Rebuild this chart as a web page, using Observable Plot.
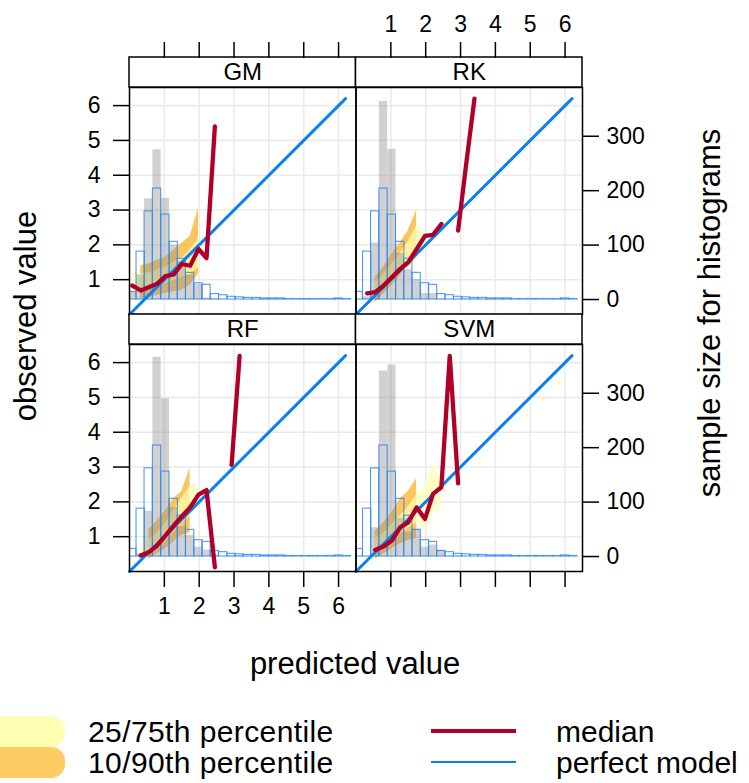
<!DOCTYPE html>
<html>
<head>
<meta charset="utf-8">
<script src="https://cdn.jsdelivr.net/npm/d3@7"></script>
<script src="https://cdn.jsdelivr.net/npm/@observablehq/plot@0.6"></script>
<style>
  html, body { margin: 0; padding: 0; background: #fff; }
  #wrap { position: relative; width: 749px; height: 783px; overflow: hidden; font-family: "Liberation Sans", Arial, sans-serif; color: #000; }
  #chart { position: absolute; left: 0; top: 0; }
  .title { position: absolute; white-space: nowrap; font-size: 31px; line-height: 1; }
  .rot { transform: translate(-50%, -50%) rotate(-90deg); }
  .hor { transform: translate(-50%, -50%); }
  .lg { position: absolute; white-space: nowrap; font-size: 30px; line-height: 0.9; transform: translateY(-50%); }
  .sw { position: absolute; border-radius: 14px; }
  .ln { position: absolute; }
</style>
</head>
<body>
<div id="wrap">
  <div id="chart"></div>
  <div class="title rot" style="left:25px; top:316px;">observed value</div>
  <div class="title rot" style="left:709px; top:313px;">sample size for histograms</div>
  <div class="title hor" style="left:355px; top:663px;">predicted value</div>
  <div class="sw" style="left:-30px; top:716px; width:95px; height:31px; background:#FFFFB3;"></div>
  <div class="sw" style="left:-30px; top:747px; width:95px; height:31px; background:#FDCC63;"></div>
  <div class="lg" style="left:88px; top:731px; letter-spacing:0.4px;">25/75th percentile</div>
  <div class="lg" style="left:88px; top:762px; letter-spacing:0.4px;">10/90th percentile</div>
  <div class="ln" style="left:431px; top:729px; width:85px; height:4px; background:#B0002A;"></div>
  <div class="ln" style="left:431px; top:761px; width:85px; height:2px; background:#0A80F5;"></div>
  <div class="lg" style="left:556px; top:731px;">median</div>
  <div class="lg" style="left:556px; top:762px;">perfect model</div>
</div>
<script>
// ---------------- data ----------------
const models = ["GM", "RK", "RF", "SVM"];

// histogram bin centres (predicted-value bins)
const binCenters = [0.08, 0.32, 0.55, 0.79, 1.03, 1.27, 1.50, 1.74, 1.98, 2.21, 2.45, 2.69, 2.93, 3.16, 3.40,
                    3.64, 3.87, 4.11, 4.35, 4.58, 4.82, 5.06, 5.29, 5.53, 5.77, 6.00, 6.24];

// observed-value histogram (blue outline, same in every panel)
const observedCounts = [14, 88, 162, 204, 156, 106, 75, 49, 30, 27, 10, 8, 5, 4, 3,
                        3, 2, 2, 2, 1, 1, 1, 1, 1, 1, 2, 1];

// predicted-value histograms (grey)
const predGM  = [13, 45, 185, 275, 186, 100, 70, 45, 28, 3, 2];
const predRK  = [0, 5, 104, 364, 276, 85, 55, 37, 11, 11, 1, 0, 1, 1, 1];
const predRF  = [0, 5, 83, 366, 290, 90, 55, 39, 17, 12, 3, 0, 2, 2];
const predSVM = [0, 0, 53, 341, 352, 70, 45, 50, 17, 21, 12, 1, 1];

// median observed value per predicted bin
const medianGM  = [0.83, 0.69, 0.78, 0.88, 1.10, 1.15, 1.45, 1.40, 1.88, 1.62, 5.40];
const medianRK  = [null, 0.61, 0.64, 0.83, 1.07, 1.31, 1.50, 1.88, 2.26, 2.29, 2.60, null, 2.41, 4.30, 6.20];
const medianRF  = [null, 0.46, 0.55, 0.74, 1.03, 1.32, 1.58, 1.84, 2.21, 2.34, 0.12, null, 3.06, 6.19];
const medianSVM = [null, null, 0.62, 0.72, 0.89, 1.27, 1.41, 1.84, 1.51, 2.23, 2.42, 6.19, 2.53];

// 10 / 90th percentiles
const q10GM  = [null, 0.45, 0.48, 0.55, 0.60, 0.65, 0.70, 0.85, 1.15];
const q90GM  = [null, 1.40, 1.45, 1.55, 1.65, 1.85, 2.05, 2.25, 3.05];
const q10RK  = [null, null, 0.33, 0.59, 0.83, 1.12, 1.45, 1.60];
const q90RK  = [null, null, 1.07, 1.36, 1.74, 2.07, 2.41, 3.00];
const q10RF  = [null, null, 0.35, 0.50, 0.65, 0.85, 1.05, 1.10];
const q90RF  = [null, null, 1.20, 1.45, 1.75, 2.10, 2.30, 2.97];
const q10SVM = [null, null, 0.35, 0.50, 0.65, 0.80, 0.90, 0.95];
const q90SVM = [null, null, 1.17, 1.40, 1.70, 2.10, 2.30, 2.67];

// 25 / 75th percentiles
const q25GM  = [0.50, 0.65, 0.70, 0.78, 0.88, 0.98, 1.07, 1.15, 1.35];
const q75GM  = [1.26, 1.15, 1.20, 1.28, 1.36, 1.50, 1.62, 1.85, 2.20];
const q25RK  = [null, null, 0.50, 0.72, 0.97, 1.18, 1.36, 1.55, 1.93];
const q75RK  = [null, null, 0.90, 1.15, 1.45, 1.75, 2.10, 2.55, 2.35];
const q25RF  = [null, 0.30, 0.45, 0.60, 0.85, 1.10, 1.40, 1.60, 1.85];
const q75RF  = [null, 0.80, 0.90, 1.10, 1.40, 1.75, 2.10, 2.45, 2.50];
const q25SVM = [null, null, 0.50, 0.62, 0.80, 1.05, 1.25, 1.40, 1.17, 1.65, 1.80];
const q75SVM = [null, null, 0.95, 1.10, 1.35, 1.60, 1.85, 2.20, 2.40, 3.10, 2.60];

// perfect-model line range, axis ticks
const perfectRange = [0, 6.2];
const axisTicks = [1, 2, 3, 4, 5, 6];
const histTicks = [0, 100, 200, 300];

// ---------------- layout / style constants ----------------
const X_DOMAIN = [0, 6.5];
const Y_DOMAIN = [0, 6.52];
const PANEL_H = 227, STRIP_H = 30;
const BIN_WIDTH = 0.237;
const HIST_BASE = 0.43, HIST_SCALE = 4.69 / 300;
const ORANGE = "#FBBE4A", YELLOW = "#FFFFB2", RED = "#B0002A", BLUE = "#0A80F5", HISTBLUE = "#3288EA";
const TICK = 16;
const TICK_FONT = 23;

const cols = ["L", "R"], rows = ["T", "B"];
const facetOf = i => ({col: cols[i % 2], row: rows[Math.floor(i / 2)]});
const toHistY = n => HIST_BASE + n * HIST_SCALE;

const preds = [predGM, predRK, predRF, predSVM];
const medians = [medianGM, medianRK, medianRF, medianSVM];
const q10s = [q10GM, q10RK, q10RF, q10SVM], q90s = [q90GM, q90RK, q90RF, q90SVM];
const q25s = [q25GM, q25RK, q25RF, q25SVM], q75s = [q75GM, q75RK, q75RF, q75SVM];

const obsRows = binCenters.map((c, k) => ({x1: c - BIN_WIDTH / 2, x2: c + BIN_WIDTH / 2, n: observedCounts[k]}));
const predRows = [], medRows = [], outerRows = [], innerRows = [], stripRows = [];
models.forEach((m, i) => {
  const f = facetOf(i);
  stripRows.push({...f, model: m});
  preds[i].forEach((n, k) => { if (n > 0) predRows.push({...f, x1: binCenters[k] - BIN_WIDTH / 2, x2: binCenters[k] + BIN_WIDTH / 2, n}); });
  medians[i].forEach((v, k) => medRows.push({...f, x: binCenters[k], y: v}));
  q10s[i].forEach((v, k) => { if (v != null && q90s[i][k] != null) outerRows.push({...f, x: binCenters[k], lo: v, hi: q90s[i][k]}); });
  q25s[i].forEach((v, k) => { if (v != null && q75s[i][k] != null) innerRows.push({...f, x: binCenters[k], lo: v, hi: q75s[i][k]}); });
});

const bottomLabelRows = axisTicks.map(v => ({v, col: "L", row: "B"}));
const topLabelRows = axisTicks.map(v => ({v, col: "R", row: "T"}));
const PX_PER_Y = PANEL_H / (Y_DOMAIN[1] - Y_DOMAIN[0]);

const chart = Plot.plot({
  width: 749,
  height: 700,
  marginLeft: 129,
  marginRight: 167,
  marginTop: 87,
  marginBottom: 129,
  style: {fontFamily: "'Liberation Sans', Arial, sans-serif", fontSize: "22px", color: "#000", background: "transparent", overflow: "visible"},
  x: {domain: X_DOMAIN},
  y: {domain: Y_DOMAIN},
  fx: {domain: cols, padding: 0, axis: null, round: false},
  fy: {domain: rows, paddingInner: STRIP_H / (PANEL_H + STRIP_H), paddingOuter: 0, axis: null, round: false},
  marks: [
    Plot.ruleX(axisTicks, {stroke: "#ebebeb", strokeWidth: 1.6}),
    Plot.ruleY(axisTicks, {stroke: "#ebebeb", strokeWidth: 1.6}),
    Plot.areaY(outerRows, {x: "x", y1: "lo", y2: "hi", fx: "col", fy: "row", fill: ORANGE, fillOpacity: 0.88}),
    Plot.areaY(innerRows, {x: "x", y1: "lo", y2: "hi", fx: "col", fy: "row", fill: YELLOW, fillOpacity: 0.72}),
    Plot.rect(predRows, {x1: "x1", x2: "x2", y1: HIST_BASE, y2: d => toHistY(d.n), fx: "col", fy: "row", fill: "#8c8c8c", fillOpacity: 0.4, clip: true}),
    Plot.rect(obsRows, {x1: "x1", x2: "x2", y1: HIST_BASE, y2: d => toHistY(d.n), fill: "none", stroke: HISTBLUE, strokeOpacity: 0.85, strokeWidth: 1.1, clip: true}),
    Plot.line(perfectRange, {x: d => d, y: d => d, stroke: BLUE, strokeWidth: 3}),
    Plot.line(medRows, {x: "x", y: "y", fx: "col", fy: "row", stroke: RED, strokeWidth: 4.3, strokeLinejoin: "round", strokeLinecap: "round"}),
    Plot.frame({stroke: "#000", strokeWidth: 1.5}),
    // strips
    Plot.rect(stripRows, {fx: "col", fy: "row", x1: X_DOMAIN[0], x2: X_DOMAIN[1], y1: Y_DOMAIN[1], y2: Y_DOMAIN[1] + STRIP_H / PX_PER_Y, fill: "white", stroke: "#000", strokeWidth: 1.5}),
    Plot.text(stripRows, {fx: "col", fy: "row", text: "model", frameAnchor: "top", dy: -STRIP_H / 2, lineAnchor: "middle", fontSize: 24}),
    // left axis
    Plot.axisY(axisTicks, {anchor: "left", tickSize: TICK, tickPadding: 13, fontSize: TICK_FONT, strokeWidth: 1.5, label: null}),
    // right axis (histogram counts)
    Plot.axisY(histTicks.map(toHistY), {anchor: "right", tickSize: TICK, tickPadding: 8, fontSize: TICK_FONT, strokeWidth: 1.5, label: null,
      tickFormat: y => String(Math.round((y - HIST_BASE) / HIST_SCALE))}),
    // bottom axis ticks (both), labels left only
    Plot.axisX(axisTicks, {anchor: "bottom", tickSize: TICK, strokeWidth: 1.5, tickFormat: () => "", label: null}),
    Plot.text(bottomLabelRows, {x: "v", fx: "col", fy: "row", text: d => String(d.v), frameAnchor: "bottom", dy: TICK + 10, lineAnchor: "top", fontSize: TICK_FONT}),
    // top axis ticks (both, above strips), labels right only
    Plot.axisX(axisTicks, {anchor: "top", tickSize: TICK, strokeWidth: 1.5, tickFormat: () => "", label: null, dy: -STRIP_H}),
    Plot.text(topLabelRows, {x: "v", fx: "col", fy: "row", text: d => String(d.v), frameAnchor: "top", dy: -(STRIP_H + TICK + 10), lineAnchor: "bottom", fontSize: TICK_FONT})
  ]
});
document.getElementById("chart").appendChild(chart);
</script>
</body>
</html>
